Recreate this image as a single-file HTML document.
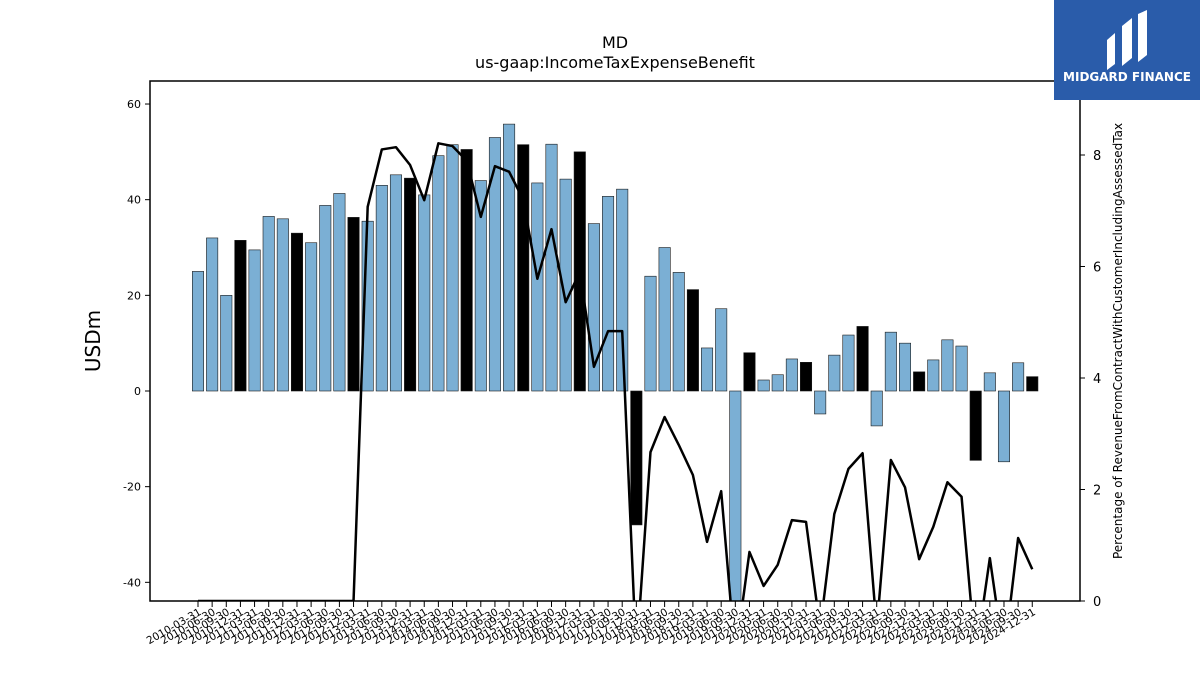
<!DOCTYPE html>
<html><head><meta charset="utf-8"><style>
body{margin:0;background:#fff;font-family:"DejaVu Sans","Liberation Sans",sans-serif}
</style></head><body>
<svg id="chart" width="1200" height="675" xmlns="http://www.w3.org/2000/svg" font-family="DejaVu Sans, Liberation Sans, sans-serif">
<rect width="1200" height="675" fill="#fff"/>
<text x="615" y="48" text-anchor="middle" font-size="16">MD</text>
<text x="615" y="68" text-anchor="middle" font-size="16">us-gaap:IncomeTaxExpenseBenefit</text>
<defs><clipPath id="plotclip"><rect x="150" y="81" width="930" height="520"/></clipPath></defs>
<g id="bars" clip-path="url(#plotclip)"></g>
<g id="line" clip-path="url(#plotclip)"></g>
<rect x="150" y="81" width="930" height="520" fill="none" stroke="#000" stroke-width="1.5"/>
<g id="axes"></g>
<text transform="translate(100,341) rotate(-90)" text-anchor="middle" font-size="20">USDm</text>
<text transform="translate(1122,341) rotate(-90)" text-anchor="middle" font-size="12">Percentage of RevenueFromContractWithCustomerIncludingAssessedTax</text>
<g>
<rect x="1054" y="0" width="146" height="100" fill="#2a5caa"/>
<path d="M1107 70 L1107 40 L1115 33 L1115 64 Z M1122 66 L1122 26 L1132 18 L1132 58 Z M1138 62 L1138 14 L1147 10 L1147 55 Z" fill="#fff"/>
<text x="1127" y="81" text-anchor="middle" font-size="12" font-weight="bold" fill="#fff">MIDGARD FINANCE</text>
</g>
</svg>
<script>
const categories=[];
for(let y=2010;y<=2024;y++){for(const q of ["03-31","06-30","09-30","12-31"])categories.push(y+"-"+q);}
const taxValues=[25,32,20,31.5,29.5,36.5,36,33,31,38.8,41.3,36.3,35.5,43,45.2,44.5,41,49.2,51.5,50.5,44,53,55.8,51.5,43.5,51.6,44.3,50,35,40.7,42.2,-28,24,30,24.8,21.2,9,17.2,-50,8,2.3,3.4,6.7,6,-4.8,7.5,11.7,13.5,-7.3,12.3,10,4,6.5,10.7,9.4,-14.5,3.8,-14.8,5.9,3];
const pctValues=[0,0,0,0,0,0,0,0,0,0,0,0,7.07,8.1,8.14,7.82,7.19,8.21,8.16,7.9,6.89,7.8,7.7,7.2,5.78,6.67,5.36,5.9,4.2,4.84,4.84,-1,2.67,3.3,2.8,2.26,1.06,1.97,-1,0.88,0.27,0.65,1.45,1.42,-0.5,1.56,2.37,2.65,-0.5,2.53,2.04,0.75,1.33,2.13,1.87,-1,0.77,-1,1.13,0.57];
const yTicks=[-40,-20,0,20,40,60];
const y2Ticks=[0,2,4,6,8];
const NS="http://www.w3.org/2000/svg";
const xs=i=>198+i*14.14;
const ys=v=>391-v*4.783;
const y2s=v=>601-v*55.75;
function mk(t,a,p){const e=document.createElementNS(NS,t);for(const k in a)e.setAttribute(k,a[k]);p.appendChild(e);return e;}
const bars=document.getElementById('bars'),line=document.getElementById('line'),axes=document.getElementById('axes');
taxValues.forEach((v,i)=>{
 const black=i%4===3;
 const r=mk('rect',{x:xs(i)-5.7,y:Math.min(ys(v),ys(0)),width:11.4,height:Math.abs(ys(v)-ys(0)),fill:black?'#000':'#7bafd4',stroke:'#1a1a1a','stroke-width':0.6},bars);
 
 
});
const pl=mk('polyline',{points:pctValues.map((v,i)=>xs(i)+','+y2s(v)).join(' '),fill:'none',stroke:'#000','stroke-width':2.5,'stroke-linejoin':'round'},line);


yTicks.forEach(t=>{
 const y=ys(t);
 mk('line',{x1:145,x2:150,y1:y,y2:y,stroke:'#000'},axes);
 const tx=mk('text',{x:141,y:y+4,'text-anchor':'end','font-size':11},axes);tx.textContent=t;
 
 
});
y2Ticks.forEach(t=>{
 const y=y2s(t);
 mk('line',{x1:1080,x2:1085,y1:y,y2:y,stroke:'#000'},axes);
 const tx=mk('text',{x:1093,y:y+5,'font-size':13},axes);tx.textContent=t;
 
 
});
categories.forEach((c,i)=>{
 const x=xs(i);
 mk('line',{x1:x,x2:x,y1:601,y2:607,stroke:'#000'},axes);
 const tx=mk('text',{transform:'translate('+(x+4)+',614) rotate(-30)','text-anchor':'end','font-size':10.5},axes);tx.textContent=c;
 
 
});
</script>
</body></html>
